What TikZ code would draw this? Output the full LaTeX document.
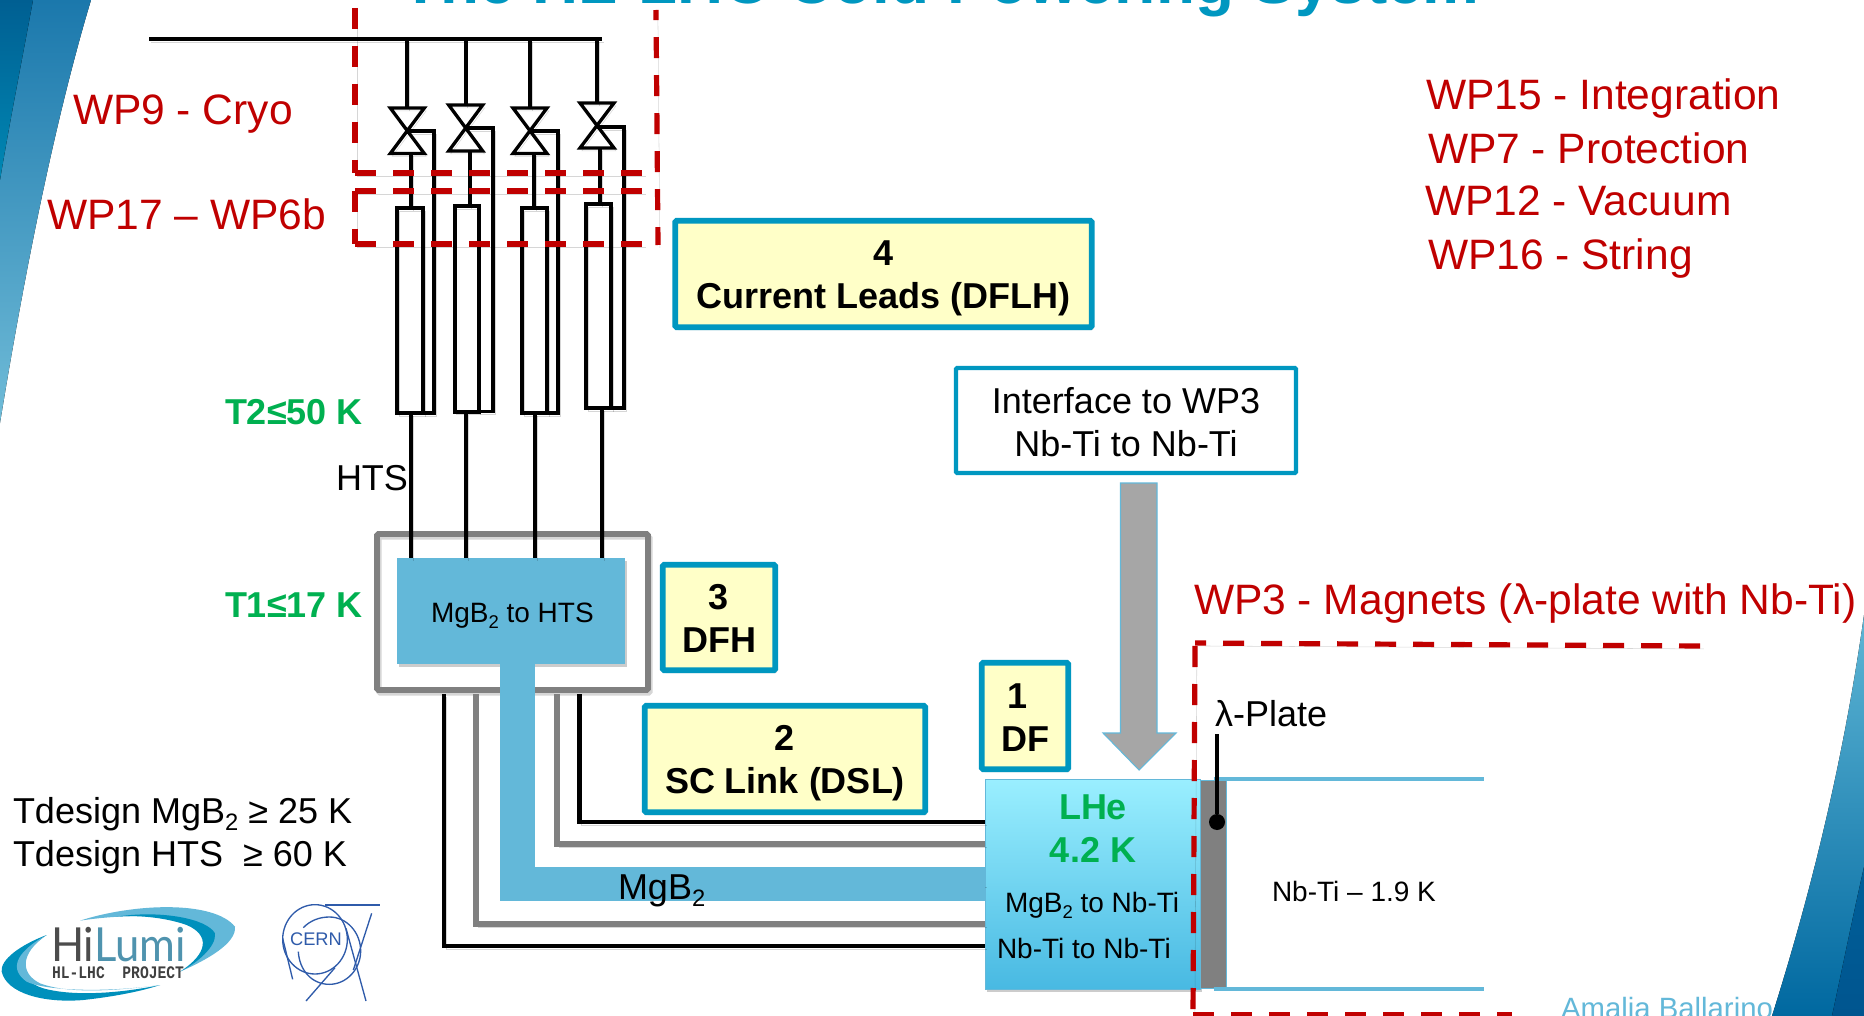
\documentclass[tikz,border=0pt]{standalone}
\usepackage{fontspec}
\setmainfont{Liberation Sans}
\newfontfamily\logofont{Lato}
\newfontfamily\logomono{Liberation Mono}
\definecolor{wpred}{HTML}{C00000}
\definecolor{tgreen}{HTML}{00B050}
\definecolor{teal}{HTML}{0097C0}
\definecolor{paleyel}{HTML}{FFFFC8}
\definecolor{cblue}{HTML}{63B8D9}
\definecolor{cerncol}{HTML}{2F5BAA}
\definecolor{lbandA}{HTML}{1B78AC}
\definecolor{lbandB}{HTML}{70BCD8}
\definecolor{ldarkA}{HTML}{005F92}
\definecolor{ldarkB}{HTML}{0088B4}
\definecolor{rbandA}{HTML}{5FB6D5}
\definecolor{rbandB}{HTML}{0068A0}
\definecolor{rdarkA}{HTML}{005F99}
\definecolor{rdarkB}{HTML}{00558F}
\definecolor{lheA}{HTML}{9AEFFF}
\definecolor{lheB}{HTML}{48B9E2}
\definecolor{logodark}{HTML}{0090BC}
\newcommand\subtwo{\raisebox{-.22em}{\scalebox{.66}{2}}}
\tikzset{
  wh/.style 2 args={minimum width=#1*0.75pt,minimum height=#2*0.75pt,inner sep=0pt,outer sep=0pt},
  lsh/.style={preaction={draw=black,draw opacity=.16,transform canvas={xshift=1.4pt,yshift=-2.2pt}}},
  fsh/.style={preaction={fill=black,fill opacity=.2,transform canvas={xshift=1.4pt,yshift=-2.2pt}}},
  txt/.style={anchor=base west,inner sep=0pt,outer sep=0pt},
  redlab/.style={txt,text=wpred,font=\fontsize{31.9}{38}\selectfont},
  greenlab/.style={txt,text=tgreen,font=\fontsize{27}{32}\selectfont\bfseries},
  biglab/.style={txt,font=\fontsize{27}{32}\selectfont},
  smalllab/.style={txt,font=\fontsize{21}{25}\selectfont},
  yellowbox/.style={draw=teal,fill=paleyel,line width=4.2pt,rounded corners=1pt,align=center,
     font=\fontsize{27}{32.4}\selectfont\bfseries,fsh},
  wpdash/.style={draw=wpred,line width=3.9pt,dash pattern=on 15.8pt off 12.7pt,lsh},
  wire/.style={draw=black,line width=3pt,lsh},
  thinwire/.style={draw=black,line width=2.5pt,lsh},
  linkblack/.style={draw=black,line width=3.4pt,lsh},
  linkgrey/.style={draw=black!50,line width=4.2pt,lsh},
  bluebar/.style={draw=cblue,line width=25.9pt,line join=miter,lsh},
  logoline/.style={draw=cerncol,line width=1pt},
}
\begin{document}
\begin{tikzpicture}[x=0.75pt,y=-0.75pt]
\useasboundingbox (0,0) rectangle (1864,1016);
\begin{scope}
\clip (0,0) rectangle (1864,1016);
\fill[white] (0,0) rectangle (1864,1016);

% title, cut by the top edge
\node[txt,text=teal,font=\fontsize{47.9}{56}\selectfont\bfseries] (title) at (401,4) {The HL-LHC Cold Powering System};

% footer name (the corner band covers its end)
\node[txt,text=cblue,font=\fontsize{22}{26}\selectfont] (author) at (1561,1018) {Amalia Ballarino};

% corner bands
\fill[top color=lbandA,bottom color=lbandB] (91,0) .. controls (55,120) and (25,270) .. (0,423) -- (0,0) -- cycle;
\fill[top color=ldarkA,bottom color=ldarkB] (33,0) .. controls (22,60) and (10,120) .. (0,180) -- (0,0) -- cycle;
\fill[top color=rbandA,bottom color=rbandB] (1864,615) .. controls (1845,750) and (1815,880) .. (1772,1016) -- (1864,1016) -- cycle;
\fill[top color=rdarkA,bottom color=rdarkB] (1864,867) .. controls (1852,920) and (1842,970) .. (1832,1016) -- (1864,1016) -- cycle;

% bus
\coordinate (busL) at (149,39.3);
\coordinate (busR) at (602,39.3);
\draw[draw=black,line width=3.1pt,lsh] (busL) -- (busR);

% converter boxes
\node[draw=black!50,line width=4.2pt,rounded corners=1pt,wh={271}{156},lsh] (cryostat) at (512.5,612) {};
\node[fill=cblue,wh={228.5}{106},fsh,font=\fontsize{21}{25}\selectfont] (conv) at (511.2,611) {};
\node[txt,font=\fontsize{21}{25}\selectfont] (convtxt) at (431,622) {MgB\subtwo{} to HTS};

% current leads
\foreach \i/\vx/\vt/\vc/\vb/\lx/\rl/\rr/\rt/\rb/\rx/\dn in {
 1/407.3/108/131/153.5/411/397/423/208/413/434/411,
 2/465.7/105/128/151/469.5/454.5/478.5/206/411.7/493/466,
 3/530/108/131/153.5/534/522/547/208/413/558/535,
 4/597/103/127/148/600/586/611/204/408/624/602}{
  \coordinate (vt\i) at (\vx,\vt);
  \coordinate (vc\i) at (\vx,\vc);
  \coordinate (rbot\i) at (\dn,\rb);
  \coordinate (rtop\i) at (\lx,\rt);
  \coordinate (vbot\i) at (\lx,\vb);
  \draw[wire] (vt\i |- busL) -- (vt\i);
  \draw[thinwire,line join=miter] (\vx-17,\vt) -- (\vx+17,\vt) -- (\vx-17,\vb) -- (\vx+17,\vb) -- cycle;
  \draw[wire] (vbot\i) -- (rtop\i);
  \draw[draw=black,line width=3pt,lsh] (\rl,\rt) rectangle (\rr,\rb);
  \draw[thinwire] (vc\i) -- (\rx,\vc) -- (\rx,\rb) -- (\rr,\rb);
  \draw[wire] (rbot\i) -- (rbot\i |- conv.north);
}

% LHe box
\node[wh={215}{210},top color=lheA,bottom color=lheB,draw=cblue,line width=.6pt,fsh] (lhe) at (1092.5,884) {};

% links
\coordinate (up1) at (579.5,694); \coordinate (lk1) at (985,822);
\coordinate (up2) at (557,694);   \coordinate (lk2) at (985,844);
\coordinate (up3) at (476,694);   \coordinate (lk3) at (985,924);
\coordinate (up4) at (444,694);   \coordinate (lk4) at (985,946);
\draw[linkblack] (up1) |- (lk1);
\draw[linkgrey]  (up2) |- (lk2);
\draw[linkgrey]  (up3) |- (lk3);
\draw[linkblack] (up4) |- (lk4);
\coordinate (barUp) at (517.5,664);
\coordinate (barEnd) at (985,884);
\draw[bluebar] (barUp) |- (barEnd);
\node[biglab] (mgblabel) at (618,899) {MgB\subtwo};

% magnet side
\node[fill=black!50,draw=cblue,line width=.6pt,wh={25.5}{208}] (plate) at (1213.2,884) {};
\coordinate (ct) at (1484,779); \coordinate (cb) at (1484,989);
\coordinate (cta) at (1213.5,779); \coordinate (cba) at (1213.5,989);
\draw[draw=cblue,line width=3.7pt] (cta) -- (ct);
\draw[draw=cblue,line width=3.7pt] (cba) -- (cb);
\coordinate (lamtop) at (1217,734);
\node[circle,fill=black,minimum size=12pt,inner sep=0pt] (lamdot) at (1217,822) {};
\draw[draw=black,line width=3pt] (lamtop) -- (lamdot);
\node[biglab] (lamlabel) at (1215,726) {λ-Plate};
\node[smalllab] (nbti) at (1272,901) {Nb-Ti – 1.9 K};

% labels in the LHe box
\node[greenlab,anchor=base] (lhe1) at (1093,819) {LHe};
\node[greenlab,anchor=base] (lhe2) at (1093,862) {4.2 K};
\node[smalllab] (lhe3) at (1005,912) {MgB\subtwo{} to Nb-Ti};
\node[smalllab] (lhe4) at (997,958) {Nb-Ti to Nb-Ti};

% red frames
\coordinate (a1) at (355,8);    \coordinate (a2) at (355,173);  \coordinate (a3) at (644,173);
\coordinate (b1) at (355,191);  \coordinate (b2) at (355,244);  \coordinate (b3) at (644,191); \coordinate (b4) at (644,244);
\coordinate (r1) at (656,10);   \coordinate (r2) at (658,245);
\draw[wpdash] (a1) -- (a2);
\draw[wpdash] (a2) -- (a3);
\draw[wpdash] (b1) -- (b2);
\draw[wpdash] (b1) -- (b3);
\draw[wpdash] (b2) -- (b4);
\draw[wpdash,dash phase=8.2pt] (r1) -- (r2);
\coordinate (m1) at (1195,643); \coordinate (m2) at (1702,646);
\coordinate (m3) at (1195,646); \coordinate (m4) at (1193,1016);
\coordinate (m5) at (1193,1015); \coordinate (m6) at (1512,1015);
\draw[wpdash,dash phase=7.5pt] (m1) -- (m2);
\draw[wpdash] (m3) -- (m4);
\draw[wpdash] (m5) -- (m6);

% yellow boxes
\node[yellowbox,wh={416.5}{106.5}] (box4) at (883.5,274) {\rule{0pt}{25.5pt}4\\Current Leads (DFLH)};
\node[yellowbox,wh={112.5}{105.5}] (box3) at (719,617.5) {\rule{0pt}{20.5pt}3\\DFH};
\node[yellowbox,wh={280.5}{106.5}] (box2) at (785,759) {\rule{0pt}{25pt}2\\SC Link (DSL)};
\node[yellowbox,wh={86.5}{106.5}] (box1) at (1025,716) {\rule{0pt}{21.5pt}1\hspace*{10.5pt}\\DF};

% interface box and arrow
\node[draw=teal,fill=white,line width=3.3pt,rounded corners=1pt,wh={340}{105},align=center,font=\fontsize{27}{32.4}\selectfont] (iface) at (1126,420.5) {\rule{0pt}{22.4pt}Interface to WP3\\Nb-Ti to Nb-Ti};
\coordinate (aS1) at (1120.5,483); \coordinate (aS2) at (1157,483);
\coordinate (aH1) at (1103,733); \coordinate (aH2) at (1176,733); \coordinate (aTip) at (1139,770);
\filldraw[fill=black!35,draw=cblue,line width=.8pt,line join=miter] (aS1) -- (aS2) -- (1157,733) -- (aH2) -- (aTip) -- (aH1) -- (1120.5,733) -- cycle;

% texts
\node[redlab] (wp9) at (73,125) {WP9 - Cryo};
\node[redlab] (wp17) at (47,230) {WP17 – WP6b};
\node[redlab] (wp15) at (1426,110) {WP15 - Integration};
\node[redlab] (wp7) at (1428,164) {WP7 - Protection};
\node[redlab] (wp12) at (1425,216) {WP12 - Vacuum};
\node[redlab] (wp16) at (1428,270) {WP16 - String};
\node[redlab] (wp3) at (1194,614) {WP3 - Magnets (λ-plate with Nb-Ti)};
\node[greenlab] (t2) at (225,424) {T2≤50 K};
\node[greenlab] (t1) at (225,617) {T1≤17 K};
\node[biglab] (hts) at (336,490) {HTS};
\node[biglab] (td1) at (13,823) {Tdesign MgB\subtwo{} ≥ 25 K};
\node[biglab] (td2) at (13,866) {Tdesign HTS\ \ ≥ 60 K};

% HiLumi logo
\begin{scope}[shift={(0,890)},x=0.25pt,y=-0.25pt]
\fill[color=cblue] (240,92) .. controls (400,40) and (640,30) .. (705,110) .. controls (710,160) and (620,210) .. (540,245) .. controls (640,190) and (650,130) .. (590,100) .. controls (500,70) and (350,75) .. (240,92) -- cycle;
\fill[color=logodark] (350,80) .. controls (480,60) and (620,85) .. (645,130) .. controls (650,170) and (590,220) .. (540,245) .. controls (625,190) and (630,135) .. (560,105) .. controls (490,80) and (400,75) .. (350,80) -- cycle;
\fill[color=logodark] (140,135) .. controls (60,165) and (0,210) .. (5,245) .. controls (20,310) and (130,340) .. (250,330) .. controls (340,320) and (420,305) .. (480,285) .. controls (360,310) and (220,320) .. (130,295) .. controls (50,270) and (40,200) .. (140,135) -- cycle;
\fill[color=cblue] (140,135) .. controls (40,190) and (30,240) .. (80,275) .. controls (130,300) and (300,310) .. (480,285) .. controls (330,305) and (200,310) .. (120,280) .. controls (60,250) and (60,190) .. (140,135) -- cycle;
\end{scope}
\node[txt,font=\logofont\fontsize{32}{36}\selectfont] (hilumi) at (51,961) {\scalebox{1.02}[1.1]{\textcolor{black!70}{Hi}\textcolor{cblue!80!black}{Lumi}}};
\node[txt,text=black!75,font=\logomono\bfseries\fontsize{11}{13}\selectfont] (hlproj) at (52,978) {\scalebox{1}[1.2]{HL-LHC\ \ PROJECT}};

% CERN logo
\begin{scope}[shift={(270,895)},x=0.25pt,y=-0.25pt]
\draw[logoline] (165,30) -- (330,30);
\draw[logoline] (135,133) ellipse [x radius=97,y radius=104];
\draw[logoline] (85,170) .. controls (88,225) and (125,268) .. (178,268) .. controls (230,268) and (272,222) .. (272,168) .. controls (272,112) and (230,66) .. (178,66) .. controls (148,66) and (120,77) .. (100,98);
\draw[logoline] (305,55) -- (250,225);
\draw[logoline] (228,100) -- (288,318);
\draw[logoline] (38,130) -- (68,253);
\draw[logoline] (195,218) -- (108,318);
\end{scope}
\node[anchor=base,inner sep=0pt,text=cerncol,font=\fontsize{13.7}{16}\selectfont] (cernt) at (316,945) {CERN};
\end{scope}
\end{tikzpicture}
\end{document}
